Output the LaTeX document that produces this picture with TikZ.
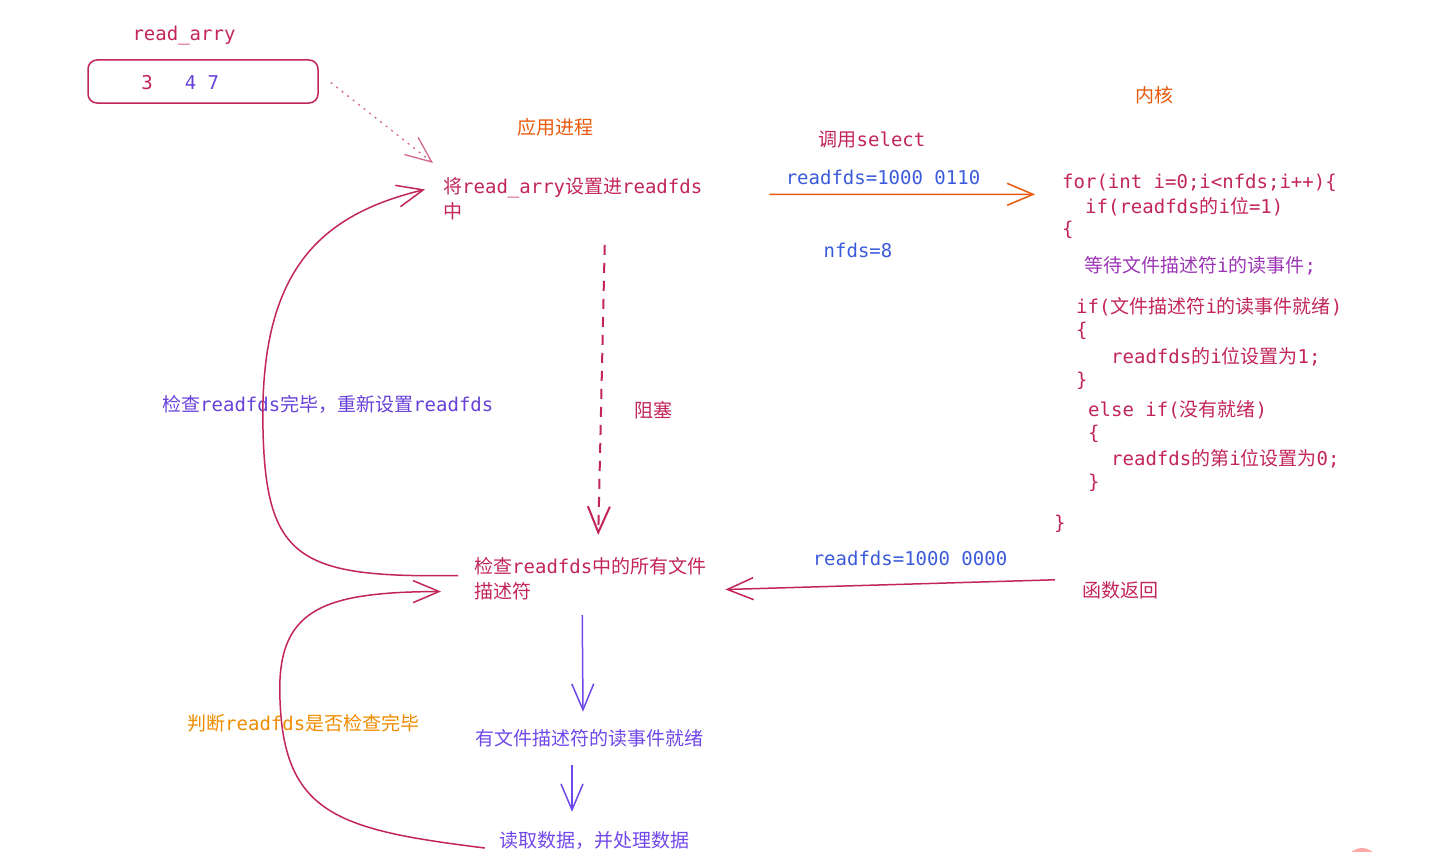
\documentclass[tikz,border=0pt]{standalone}
\usepackage{fontspec}
\setmainfont{Noto Sans CJK SC}
\setmonofont{DejaVu Sans Mono}
\usetikzlibrary{arrows.meta,positioning}
\definecolor{selCrimson}{HTML}{C2255C}
\definecolor{selViolet}{HTML}{6741D9}
\definecolor{selLilac}{HTML}{7048E8}
\definecolor{selBlue}{HTML}{3B5BDB}
\definecolor{selOrange}{HTML}{E8590C}
\definecolor{selAmber}{HTML}{F08C00}
\definecolor{selGrape}{HTML}{9C36B5}
\definecolor{selBlush}{HTML}{FFA8A8}
\newcommand\cd[1]{\texttt{#1}}

\begin{document}
\begin{tikzpicture}[x=1pt,y=-1pt,font=\fontsize{19}{25}\selectfont,
    txt/.style={inner sep=0pt,anchor=base},
    txtl/.style={inner sep=0pt,anchor=base west},
    para/.style={inner sep=0pt,anchor=north west,align=left},
    code/.style={txtl,text=selCrimson},
    flow/.style={-{Straight Barb[length=26pt,width=22pt]},line width=1.5pt}]
  \useasboundingbox (0,0) rectangle (1442,851);

  % the array in user space
  \node[draw=selCrimson,line width=1.5pt,rounded corners=9pt,minimum width=230pt,
        minimum height=43pt,inner sep=0pt] (arrbox) at (203,81.5) {};
  \node[txt,text=selCrimson] (arrlbl) at (184,41) {\cd{read\_arry}};
  \node[txt,text=selCrimson] (n3) at (147,89) {\cd{3}};
  \node[txt,text=selViolet] (n47) at (202,89) {\cd{4 7}};

  % application side
  \node[txt,text=selOrange] (app) at (555,134) {应用进程};
  \node[para,text=selCrimson] (setfd) at (443,177) {将\cd{read\_arry}设置进\cd{readfds}\\中};
  \node[txt,text=selCrimson] (block) at (653,417) {阻塞};
  \node[para,text=selCrimson] (check) at (474,557) {检查\cd{readfds}中的所有文件\\描述符};
  \node[txtl,text=selViolet] (reset) at (162,411) {检查\cd{readfds}完毕，重新设置\cd{readfds}};
  \node[txtl,text=selAmber] (judge) at (187,730) {判断\cd{readfds}是否检查完毕};
  \node[txt,text=selLilac] (ready) at (589,745) {有文件描述符的读事件就绪};
  \node[txt,text=selLilac] (readdata) at (594,847) {读取数据，并处理数据};

  % the call and its return
  \node[txt,text=selCrimson] (call) at (872,146) {调用\cd{select}};
  \node[txt,text=selBlue] (bits1) at (883,184) {\cd{readfds=1000 0110}};
  \node[txt,text=selBlue] (nfds) at (858,257) {\cd{nfds=8}};
  \node[txt,text=selBlue] (bits2) at (910,565) {\cd{readfds=1000 0000}};
  \node[txt,text=selCrimson] (ret) at (1120,597) {函数返回};

  % kernel side
  \node[txt,text=selOrange] (kern) at (1154,102) {内核};
  \node[code] (c1) at (1062,188) {\cd{for(int i=0;i<nfds;i++)\{}};
  \node[code] (c2) at (1085,213) {\cd{if(readfds}的\cd{i}位\cd{=1)}};
  \node[code] (c3) at (1062,235) {\cd{\{}};
  \node[code,text=selGrape] (c4) at (1084,272) {等待文件描述符\cd{i}的读事件\cd{;}};
  \node[code] (c5) at (1076,313) {\cd{if(}文件描述符\cd{i}的读事件就绪\cd{)}};
  \node[code] (c6) at (1076,336) {\cd{\{}};
  \node[code] (c7) at (1111,363) {\cd{readfds}的\cd{i}位设置为\cd{1;}};
  \node[code] (c8) at (1076,386) {\cd{\}}};
  \node[code] (c9) at (1088,416) {\cd{else if(}没有就绪\cd{)}};
  \node[code] (c10) at (1088,439) {\cd{\{}};
  \node[code] (c11) at (1111,465) {\cd{readfds}的第\cd{i}位设置为\cd{0;}};
  \node[code] (c12) at (1088,488) {\cd{\}}};
  \node[code] (c13) at (1054,529) {\cd{\}}};

  % connectors
  \draw[flow,selCrimson!70,line width=1.3pt,dash pattern=on 2pt off 5pt]
    ([xshift=12pt,yshift=-1pt]arrbox.east) -- ([xshift=-10pt,yshift=14pt]setfd.north west);
  \draw[flow,selOrange] ([xshift=67pt,yshift=4pt]setfd.east) -- ([xshift=-27pt,yshift=-12pt]c1.west);
  \draw[flow,selCrimson,line width=2pt,dash pattern=on 10pt off 8pt]
    ([xshift=32pt,yshift=-25pt]setfd.south) -- ([xshift=8pt,yshift=22pt]check.north);
  \draw[flow,selCrimson] ([xshift=-27pt,yshift=10pt]ret.west) -- ([xshift=19pt,yshift=-11pt]check.east);
  \draw[flow,selCrimson] ([xshift=-16pt,yshift=3pt]check.west)
    .. controls (300,578) and (266,560) .. (263,430)
    .. controls (259,270) and (320,215) .. ([xshift=-18pt,yshift=9pt]setfd.west);
  \draw[flow,selCrimson] ([xshift=-14pt,yshift=-8pt]readdata.west)
    .. controls (340,830) and (284,815) .. (280,700)
    .. controls (276,610) and (320,592) .. ([xshift=-33pt,yshift=-13pt]check.west);
  \draw[flow,selLilac] ([xshift=-8pt,yshift=-15pt]check.south) -- ([xshift=-6pt,yshift=17pt]ready.north);
  \draw[flow,selLilac] ([xshift=-17pt,yshift=-18pt]ready.south) -- ([xshift=-22pt,yshift=19pt]readdata.north);

  \fill[selBlush] (1362,873) ellipse [x radius=20pt,y radius=25pt];
\end{tikzpicture}
\end{document}
